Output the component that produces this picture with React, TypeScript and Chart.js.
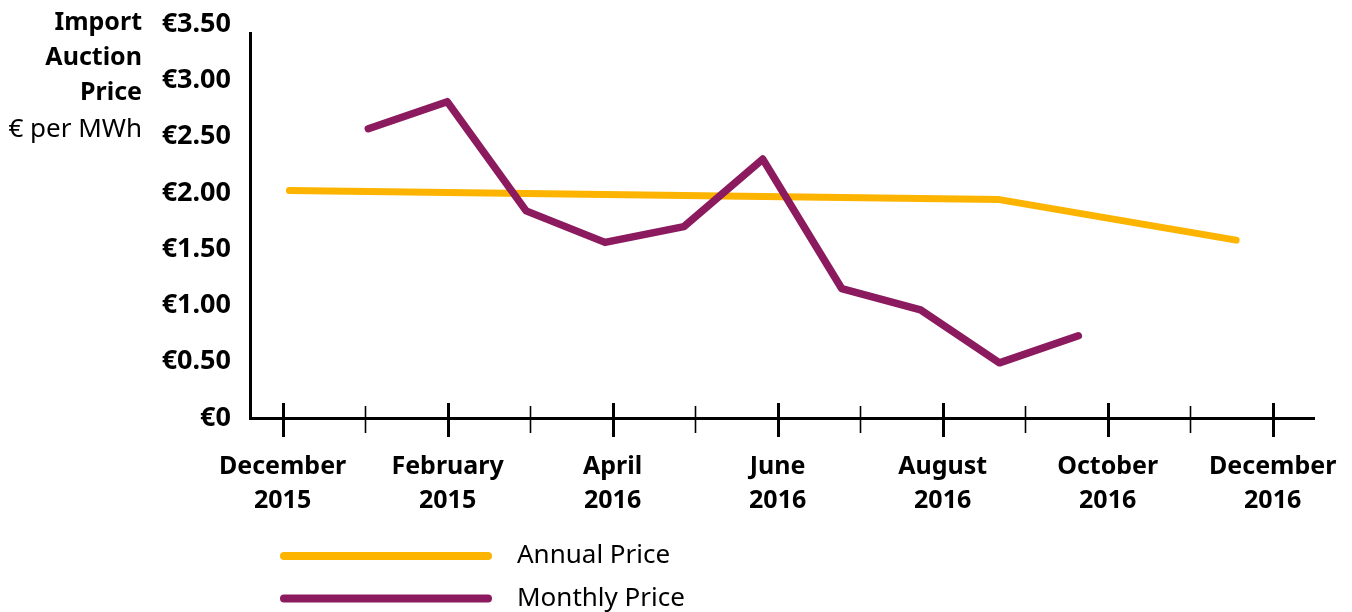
import React, { useEffect, useRef } from "react";
import { Chart, registerables } from "chart.js";

Chart.register(...registerables);

// Data positions: 13 evenly spaced observation slots (Dec 2015 .. Dec 2016)
const monthlyIndex = [1, 2, 3, 4, 5, 6, 7, 8, 9, 10];
const monthlyPrice = [2.57, 2.81, 1.84, 1.56, 1.7, 2.3, 1.15, 0.96, 0.49, 0.73];
const annualIndex = [0, 9, 12];
const annualPrice = [2.02, 1.94, 1.58];

// Axis ticks
const monthTicks = [0, 1, 2, 3, 4, 5, 6, 7, 8, 9, 10, 11, 12];
const monthLabels: (string[] | null)[] = [
  ["December", "2015"], null,
  ["February", "2015"], null,
  ["April", "2016"], null,
  ["June", "2016"], null,
  ["August", "2016"], null,
  ["October", "2016"], null,
  ["December", "2016"],
];
const yTicks = [0, 0.5, 1, 1.5, 2, 2.5, 3, 3.5];
const titleLines = ["Import", "Auction", "Price"];
const unitLabel = "€ per MWh";
const seriesNames = ["Annual Price", "Monthly Price"];

const YELLOW = "#FDB400";
const PURPLE = "#8B1A5E";
const FONT = '"Noto Sans", sans-serif';

export default function App() {
  const ref = useRef<HTMLCanvasElement | null>(null);

  useEffect(() => {
    const canvas = ref.current;
    if (!canvas) return;

    const decorations = {
      id: "decorations",
      beforeDatasetsDraw(chart: any) {
        const { ctx, chartArea, scales } = chart;
        const x2 = scales.x2;
        const y = scales.y;
        ctx.save();
        ctx.strokeStyle = "#000";
        ctx.lineCap = "butt";
        // axes
        ctx.lineWidth = 3;
        ctx.beginPath();
        ctx.moveTo(chartArea.left + 0.5, y.getPixelForValue(3.5) + 8);
        ctx.lineTo(chartArea.left + 0.5, chartArea.bottom + 0.5);
        ctx.lineTo(chartArea.right, chartArea.bottom + 0.5);
        ctx.stroke();
        // tick marks crossing the x axis
        monthTicks.forEach((m) => {
          const px = Math.round(x2.getPixelForValue(m)) + 0.5;
          const major = m % 2 === 0;
          ctx.lineWidth = major ? 3 : 1.6;
          ctx.beginPath();
          ctx.moveTo(px, chartArea.bottom + (major ? -15 : -12));
          ctx.lineTo(px, chartArea.bottom + (major ? 19 : 15));
          ctx.stroke();
        });
        ctx.restore();
      },
      afterDraw(chart: any) {
        const { ctx } = chart;
        ctx.save();
        ctx.fillStyle = "#000";
        ctx.textAlign = "right";
        ctx.textBaseline = "middle";
        ctx.font = `bold 25px ${FONT}`;
        titleLines.forEach((t, i) => ctx.fillText(t, 142, 23 + i * 35));
        ctx.font = `26px ${FONT}`;
        ctx.fillText(unitLabel, 142, 130);

        // legend
        const colors = [YELLOW, PURPLE];
        const ys = [556, 598.5];
        seriesNames.forEach((name, i) => {
          ctx.strokeStyle = colors[i];
          ctx.lineWidth = 8;
          ctx.lineCap = "round";
          ctx.beginPath();
          ctx.moveTo(284, ys[i]);
          ctx.lineTo(488, ys[i]);
          ctx.stroke();
          ctx.fillStyle = "#000";
          ctx.textAlign = "left";
          ctx.font = `26px ${FONT}`;
          ctx.fillText(name, 517, ys[i]);
        });
        ctx.restore();
      },
    };

    const chart = new Chart(canvas, {
      type: "line",
      data: {
        datasets: [
          {
            label: seriesNames[0],
            data: annualIndex.map((x, i) => ({ x, y: annualPrice[i] })),
            borderColor: YELLOW,
            borderWidth: 7,
            borderCapStyle: "round",
            borderJoinStyle: "round",
            pointRadius: 0,
            order: 2,
            xAxisID: "x",
            yAxisID: "y",
          },
          {
            label: seriesNames[1],
            data: monthlyIndex.map((x, i) => ({ x, y: monthlyPrice[i] })),
            borderColor: PURPLE,
            borderWidth: 7.5,
            borderCapStyle: "round",
            borderJoinStyle: "round",
            pointRadius: 0,
            order: 1,
            xAxisID: "x",
            yAxisID: "y",
          },
        ],
      },
      options: {
        animation: false,
        responsive: false,
        layout: { padding: { top: 24, right: 37, bottom: 0, left: 0 } },
        plugins: { legend: { display: false }, tooltip: { enabled: false } },
        scales: {
          x: {
            type: "linear",
            display: false,
            min: -0.5,
            max: 13,
          },
          x2: {
            type: "linear",
            position: "bottom",
            min: -0.395,
            max: 12.513,
            border: { display: false },
            grid: { display: false, drawTicks: false },
            afterBuildTicks: (scale: any) => {
              scale.ticks = monthTicks.map((v) => ({ value: v }));
            },
            afterFit: (scale: any) => {
              scale.height = 194;
              scale.paddingLeft = 0;
              scale.paddingRight = 0;
            },
            ticks: {
              autoSkip: false,
              maxRotation: 0,
              minRotation: 0,
              padding: 32,
              color: "#000",
              font: { family: FONT, size: 25, weight: "bold", lineHeight: 1.35 },
              callback: (value: any) => {
                const idx = monthTicks.indexOf(Number(value));
                const lab = idx >= 0 ? monthLabels[idx] : null;
                return lab ? lab : "";
              },
            },
          },
          y: {
            type: "linear",
            min: 0,
            max: 3.5,
            border: { display: false },
            grid: { display: false, drawTicks: false },
            afterBuildTicks: (scale: any) => {
              scale.ticks = yTicks.map((v) => ({ value: v }));
            },
            afterFit: (scale: any) => {
              scale.width = 250;
              scale.paddingTop = 0;
              scale.paddingBottom = 0;
            },
            ticks: {
              padding: 19,
              color: "#000",
              font: { family: FONT, size: 27, weight: "bold" },
              callback: (value: any) => {
                const v = Number(value);
                return v === 0 ? "€0" : "€" + v.toFixed(2);
              },
            },
          },
        },
      },
      plugins: [decorations],
    } as any);

    return () => chart.destroy();
  }, []);

  return (
    <canvas
      ref={ref}
      width={1352}
      height={612}
      style={{ position: "absolute", left: 0, top: 0, display: "block" }}
    />
  );
}
